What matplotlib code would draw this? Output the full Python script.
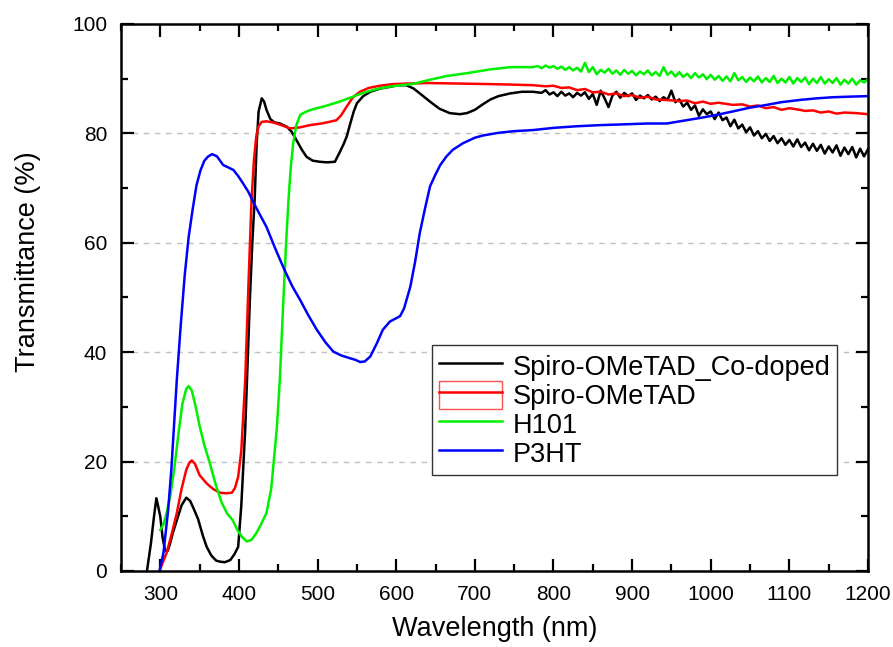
import matplotlib
matplotlib.use("Agg")
import matplotlib.pyplot as plt
from matplotlib.lines import Line2D
from matplotlib.patches import Patch
from matplotlib.legend_handler import HandlerTuple
from matplotlib.ticker import MultipleLocator

plt.rcParams['font.family'] = ['Liberation Sans', 'DejaVu Sans']

# Spiro-OMeTAD_Co-doped (black)
wl_co = [283, 288, 292, 295, 297, 300, 303, 306, 309, 312, 316, 321, 327, 333, 338, 343, 348,
         354, 359, 365, 371, 376, 382, 389, 394, 399, 403, 408, 411, 414, 417, 420, 422.5, 425,
         429, 432, 435, 440, 445, 452, 461, 467, 473, 480, 486, 494, 503, 512, 522, 528, 533,
         537, 542, 546, 550, 558, 567, 580, 592, 602, 613, 622, 630, 643, 655, 668, 681, 690,
         700, 710, 720, 730, 745, 760, 774, 780,
         785, 790, 795, 800, 805, 810, 815, 820, 825, 830, 835, 840, 845, 850, 855, 860, 865,
         870, 875, 880, 885, 890, 895, 900, 905, 910, 915, 920, 925, 930, 935, 940, 945, 950,
         955, 960, 965, 970, 975, 980, 985, 990, 995, 1000, 1005, 1010, 1015, 1020, 1025, 1030,
         1035, 1040, 1045, 1050, 1055, 1060, 1065, 1070, 1075, 1080, 1085, 1090, 1095, 1100,
         1105, 1110, 1115, 1120, 1125, 1130, 1135, 1140, 1145, 1150, 1155, 1160, 1165, 1170,
         1175, 1180, 1185, 1190, 1195, 1200]
t_co = [0, 5, 10, 13.3, 12, 9.9, 6, 3.8, 3.6, 4.8, 7, 9.3, 12, 13.4, 12.8, 11.2, 9.5,
        6.5, 4.4, 2.8, 1.9, 1.7, 1.6, 2, 3, 4.4, 12, 26, 38, 50, 60, 68, 78, 84,
        86.4, 85.8, 84.3, 82.6, 82, 81.8, 81.2, 80.3, 78.8, 77, 75.7, 75, 74.8, 74.7, 74.8, 76.5, 78,
        79.4, 82, 84, 85.5, 86.8, 87.6, 88.2, 88.5, 88.8, 88.8, 88.2, 87.3, 85.8, 84.5, 83.7, 83.5, 83.7,
        84.3, 85.3, 86.2, 86.8, 87.3, 87.6, 87.6, 87.5,
        87.4, 87.9, 87.1, 87.5, 86.8, 87.6, 86.9, 87.3, 86.6, 87.4, 86.9, 87.5, 86.3, 87.2, 85.2, 87.8, 86.4,
        84.8, 86.9, 87.6, 86.5, 87.4, 86.8, 87.3, 86.1, 86.9, 86.4, 87.0, 86.2, 86.7, 85.9, 86.6, 86.1, 87.8,
        85.7, 86.2, 84.9, 85.6, 84.3, 85.1, 83.2, 84.4, 83.5, 84.0, 82.6, 83.8, 82.4, 82.9, 81.3, 82.5,
        80.9, 81.6, 80.2, 81.1, 79.6, 80.4, 79.1, 79.9, 78.6, 79.5, 78.2, 79.1, 77.9, 78.8,
        77.6, 78.9, 77.5, 78.3, 76.9, 78.1, 76.8, 77.9, 76.3, 77.6, 76.5, 77.8, 75.9, 77.4,
        76.2, 77.5, 75.6, 77.2, 75.8, 77.1]

# Spiro-OMeTAD (red)
wl_spiro = [299, 303, 308, 314, 321, 327, 333, 337, 340, 344, 350, 359, 367, 376, 383, 391, 395,
            399, 403, 408, 412, 416, 419, 422, 425, 429, 435, 443, 452, 465, 478, 490, 505, 515,
            524, 530, 537, 545, 554, 565, 579, 595, 613, 640, 680, 720, 750, 774, 790, 800, 810,
            820, 830, 840, 850, 860, 870, 880, 890, 900, 910, 920, 930, 944, 960, 970, 980, 990,
            1000, 1010, 1028, 1040, 1050, 1060, 1070, 1080, 1090, 1100, 1113, 1120, 1130, 1140,
            1150, 1160, 1170, 1185, 1200]
t_spiro = [0, 1.5, 3.3, 6.5, 10.6, 15, 18.5, 19.8, 20.2, 19.6, 17.5, 16, 15, 14.3, 14.2, 14.3, 15.2,
           17.2, 22, 35, 52, 67.8, 75, 79.4, 81.3, 82.1, 82.2, 82, 81.6, 80.9, 81.1, 81.5, 81.8, 82.1,
           82.4, 83.3, 84.9, 86.6, 87.6, 88.3, 88.7, 89, 89.1, 89.2, 89.1, 89, 88.9, 88.8, 88.6, 88.7, 88.3,
           88.4, 87.9, 88.1, 87.5, 87.6, 87.1, 87.3, 86.8, 87.0, 86.5, 86.7, 86.2, 86.1, 85.9, 86.0, 85.5, 85.8,
           85.4, 85.6, 85.2, 85.3, 84.9, 85.1, 84.6, 84.8, 84.3, 84.6, 84.3, 84.1, 84.2, 83.8,
           84.0, 83.6, 83.8, 83.7, 83.5]

# H101 (green)
wl_h101 = [300, 304, 308, 313, 318, 323, 328, 333, 336, 340, 345, 350, 356, 363, 370, 378, 385,
           392, 398, 404, 410, 416, 422, 428, 435, 441, 448, 452, 456, 460, 463, 466, 469, 473, 478,
           486, 494, 510, 528, 545, 558, 575, 590, 605, 620, 643, 665, 690, 720, 745, 774,
           780, 785, 790, 795, 800, 805, 810, 815, 820, 825, 830, 835, 840, 845, 850, 855, 860, 865,
           870, 875, 880, 885, 890, 895, 900, 905, 910, 915, 920, 925, 930, 935, 940, 945, 950, 955,
           960, 965, 970, 975, 980, 985, 990, 995, 1000, 1005, 1010, 1015, 1020, 1025, 1030, 1035,
           1040, 1045, 1050, 1055, 1060, 1065, 1070, 1075, 1080, 1085, 1090, 1095, 1100, 1105, 1110,
           1115, 1120, 1125, 1130, 1135, 1140, 1145, 1150, 1155, 1160, 1165, 1170, 1175, 1180, 1185,
           1190, 1195, 1200]
t_h101 = [7.5, 8.5, 10.6, 14, 19, 25, 30.5, 33.3, 33.8, 33, 30, 26.5, 23, 19.7, 16, 12.5, 10.5,
          9.3, 7.5, 6.2, 5.4, 5.7, 6.9, 8.5, 10.6, 15, 25.8, 35, 48, 60, 67.8, 74, 78.2, 81.5, 83.4,
          84, 84.4, 85, 85.8, 86.7, 87.4, 88.1, 88.5, 88.8, 89.0, 89.8, 90.5, 91, 91.7, 92.1, 92.1,
          92.3, 91.9, 92.4, 92.0, 92.3, 91.8, 92.2, 91.6, 92.1, 91.5, 92.0, 91.3, 92.9, 91.2, 92.1, 90.8, 91.6, 91.1,
          91.8, 90.9, 91.5, 90.7, 91.6, 90.9, 91.4, 90.6, 91.3, 90.8, 91.5, 90.6, 91.2, 90.5, 92.1, 90.7, 91.3, 90.4,
          91.2, 90.3, 90.9, 90.1, 91.0, 90.2, 90.8, 89.9, 90.7, 89.8, 90.5, 89.6, 90.4, 89.5, 91.0, 89.7,
          90.3, 89.4, 90.2, 89.5, 90.4, 89.3, 90.1, 89.4, 90.5, 89.2, 90.0, 89.3, 90.3, 89.1, 90.1,
          89.4, 90.2, 89.0, 90.0, 89.2, 90.3, 89.1, 89.9, 89.2, 90.1, 88.9, 89.8, 89.1, 90.0, 88.9,
          89.7, 89.3, 89.9]

# P3HT (blue)
wl_p3ht = [299, 304, 310, 314, 321, 326, 331, 336, 341, 346, 351, 356, 361, 366, 372, 380, 386,
           393, 399, 405, 412, 418, 426, 435, 446, 458, 468, 478, 488, 499, 510, 520, 530, 541, 548,
           554, 560, 567, 575, 583, 592, 600, 605, 610, 614, 618, 624, 630, 637, 643, 650, 656, 664,
           672, 685, 700, 710, 730, 750, 774, 800, 830, 859, 880, 900, 920, 944, 965, 986, 1005,
           1028, 1050, 1071, 1090, 1113, 1135, 1155, 1175, 1199]
t_p3ht = [0, 3.3, 11.2, 18.5, 35, 45, 54, 61, 66, 70.5, 73.2, 75, 75.8, 76.2, 75.8, 74.2, 73.8,
          73.3, 72.2, 70.9, 69.3, 67.5, 65.3, 62.9, 59, 55, 52, 49.5, 46.8, 44.1, 41.8, 40.1, 39.4, 38.9, 38.6,
          38.2, 38.3, 39.2, 41.5, 44.1, 45.6, 46.2, 46.6, 48, 50, 52, 56.5, 61.8, 66.5, 70.3, 72.5, 74.2, 75.8,
          77, 78.2, 79.2, 79.6, 80.1, 80.4, 80.6, 81, 81.3, 81.5, 81.6, 81.7, 81.8, 81.8, 82.3, 82.8, 83.3,
          84, 84.7, 85.2, 85.7, 86.1, 86.4, 86.6, 86.7, 86.8]

labels = ['Spiro-OMeTAD_Co-doped', 'Spiro-OMeTAD', 'H101', 'P3HT']
colors = ['black', '#ff0000', '#00f000', '#0000ff']

fig = plt.figure(figsize=(8.93, 6.47), dpi=100)
ax = fig.add_axes([0.1355, 0.1175, 0.8365, 0.8455])

ax.plot(wl_co, t_co, color=colors[0], lw=1.8)
ax.plot(wl_spiro, t_spiro, color=colors[1], lw=1.8)
ax.plot(wl_h101, t_h101, color=colors[2], lw=1.8)
ax.plot(wl_p3ht, t_p3ht, color=colors[3], lw=1.8)

ax.set_xlim(250, 1200)
ax.set_ylim(0, 100)
ax.xaxis.set_major_locator(MultipleLocator(100))
ax.xaxis.set_minor_locator(MultipleLocator(50))
ax.yaxis.set_major_locator(MultipleLocator(20))
ax.yaxis.set_minor_locator(MultipleLocator(10))
ax.set_xticks([300, 400, 500, 600, 700, 800, 900, 1000, 1100, 1200])

ax.tick_params(which='both', direction='in', top=True, right=True, width=1.6)
ax.tick_params(which='major', length=9, labelsize=15, pad=10)
ax.tick_params(which='minor', length=5)
for s in ax.spines.values():
    s.set_linewidth(1.8)

ax.yaxis.grid(True, which='major', linestyle=(0, (4, 4)), color='#c0c0c0', lw=1)
ax.set_axisbelow(True)

ax.set_xlabel('Wavelength (nm)', fontsize=19.5, labelpad=9)
ax.set_ylabel('Transmittance (%)', fontsize=19.5)
ax.yaxis.set_label_coords(-0.107, 0.565)

h_co = Line2D([], [], color=colors[0], lw=1.8)
h_sp = (Patch(facecolor='none', edgecolor='#ff5050', lw=1),
        Line2D([], [], color=colors[1], lw=1.8))
h_h1 = Line2D([], [], color=colors[2], lw=1.8)
h_p3 = Line2D([], [], color=colors[3], lw=1.8)
leg = ax.legend([h_co, h_sp, h_h1, h_p3], labels,
                handler_map={tuple: HandlerTuple(ndivide=1)},
                loc='upper left', bbox_to_anchor=(0.417, 0.413), borderaxespad=0,
                fontsize=19.5, fancybox=False, framealpha=1, edgecolor='#333333',
                handlelength=2.3, handleheight=1.2, labelspacing=0.0,
                handletextpad=0.4, borderpad=0.25)
leg.get_frame().set_linewidth(1)

fig.savefig('out.png', dpi=100)
